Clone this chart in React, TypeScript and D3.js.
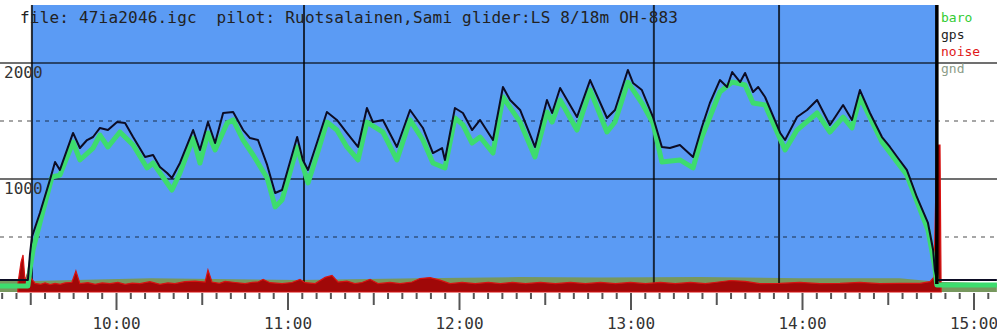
import React from 'react';
import * as d3 from 'd3';

const W = 997;
const H = 334;

const titleText = 'file: 47ia2046.igc  pilot: Ruotsalainen,Sami glider:LS 8/18m OH-883';
const solidGrid = [1000, 2000];
const dashedGrid = [500, 1500];
const yLabels = [1000, 2000];
const hourTicks = [600, 660, 720, 780, 840, 900];
const legendLabels = ['baro', 'gps', 'noise', 'gnd'];
const legendColors = ['#33cc33', '#222222', '#e01818', '#8c9c88'];
const markerTimes = [665.6, 788.0, 831.8];
const flightStart = 570.4;
const flightEnd = 887.0;

// minutes since midnight / metres
const gpsTime = [559.2, 569.0, 569.7, 570.4, 573.2, 576.7, 578.5, 580.2, 584.8, 587.2, 589.7, 591.8, 594.2, 597.0, 600.2, 603.0, 605.8, 610.0, 612.8, 615.2, 617.7, 619.4, 622.2, 626.8, 629.2, 632.0, 634.5, 637.3, 640.8, 644.3, 646.7, 649.5, 652.7, 655.5, 657.9, 663.2, 665.2, 667.0, 670.1, 673.6, 677.1, 680.6, 684.5, 687.6, 689.7, 693.2, 698.1, 702.7, 707.2, 710.7, 713.9, 714.9, 718.4, 721.2, 724.4, 727.2, 731.7, 735.2, 737.7, 741.2, 746.4, 750.6, 752.4, 755.2, 761.1, 765.7, 771.6, 774.4, 778.9, 780.7, 783.8, 787.7, 790.8, 793.6, 797.1, 801.7, 804.8, 807.6, 811.1, 813.6, 815.4, 818.2, 819.9, 822.7, 824.5, 826.9, 832.2, 833.9, 838.1, 841.6, 845.1, 849.6, 854.2, 857.3, 860.1, 863.6, 867.8, 870.6, 873.4, 876.5, 880.0, 883.9, 885.7, 886.3, 887.0, 908.0];
const gpsAlt = [129, 129, 345, 500, 707, 991, 1147, 1078, 1397, 1267, 1336, 1362, 1440, 1422, 1491, 1483, 1362, 1190, 1207, 1103, 1052, 1009, 1138, 1422, 1250, 1491, 1310, 1569, 1578, 1422, 1353, 1336, 1121, 879, 905, 1362, 1164, 1078, 1310, 1578, 1509, 1397, 1276, 1612, 1491, 1509, 1276, 1595, 1440, 1224, 1267, 1164, 1612, 1569, 1422, 1509, 1336, 1793, 1681, 1595, 1276, 1681, 1569, 1784, 1534, 1853, 1526, 1595, 1940, 1828, 1767, 1534, 1276, 1267, 1293, 1190, 1448, 1655, 1853, 1793, 1922, 1836, 1914, 1750, 1793, 1707, 1397, 1336, 1534, 1595, 1681, 1466, 1638, 1509, 1767, 1569, 1362, 1276, 1181, 1078, 845, 621, 388, 216, 129, 129];

const baroTime = [559.2, 569.0, 569.7, 570.8, 573.2, 577.4, 580.2, 584.8, 587.2, 591.8, 594.2, 597.0, 601.2, 605.8, 610.7, 612.8, 619.4, 622.2, 626.8, 629.2, 632.0, 634.5, 638.7, 640.8, 644.3, 647.8, 652.7, 655.5, 657.9, 663.2, 667.0, 670.1, 673.6, 677.1, 680.6, 684.5, 687.6, 693.2, 698.1, 702.7, 707.2, 710.7, 714.9, 718.4, 721.2, 724.4, 727.2, 731.7, 735.2, 741.2, 746.4, 750.6, 752.4, 755.2, 761.1, 765.7, 771.6, 774.4, 778.9, 783.8, 787.7, 790.8, 797.1, 801.7, 804.8, 811.1, 815.4, 819.9, 822.7, 826.9, 833.9, 838.1, 845.1, 849.6, 854.2, 857.3, 860.1, 867.8, 876.5, 883.9, 886.3, 887.0, 908.0];
const baroAlt = [78, 78, 216, 388, 621, 1017, 1034, 1319, 1164, 1267, 1379, 1276, 1405, 1293, 1095, 1138, 905, 1052, 1353, 1138, 1397, 1250, 1483, 1509, 1336, 1207, 1009, 759, 819, 1276, 966, 1207, 1491, 1422, 1276, 1164, 1491, 1405, 1164, 1509, 1336, 1138, 1095, 1526, 1466, 1310, 1362, 1224, 1707, 1491, 1190, 1578, 1491, 1681, 1422, 1767, 1405, 1491, 1836, 1655, 1483, 1147, 1164, 1095, 1362, 1750, 1836, 1810, 1655, 1638, 1250, 1422, 1569, 1405, 1534, 1440, 1707, 1319, 1034, 560, 241, 86, 86];

const noiseTime = [565.5, 566.6, 567.3, 568.0, 569.0, 570.1, 571.5, 573.5, 575.0, 576.8, 578.5, 580.3, 582.0, 584.4, 585.8, 587.2, 590.0, 592.5, 595.0, 597.7, 600.5, 603.0, 605.5, 608.2, 611.7, 615.2, 618.0, 620.4, 623.9, 627.5, 631.0, 632.0, 633.4, 636.0, 638.0, 641.5, 645.0, 647.5, 649.5, 651.3, 653.7, 657.9, 661.4, 664.2, 666.0, 669.5, 673.0, 675.4, 677.5, 680.6, 683.4, 685.9, 688.7, 691.5, 695.7, 699.2, 703.4, 706.2, 709.7, 713.2, 716.7, 720.9, 725.5, 730.1, 734.3, 738.5, 743.1, 748.3, 753.6, 758.8, 764.1, 769.3, 774.6, 779.8, 785.1, 790.3, 795.5, 800.8, 806.0, 810.0, 814.8, 819.9, 825.1, 832.1, 839.1, 846.1, 853.1, 860.1, 867.1, 874.1, 881.1, 884.6, 886.0, 887.0, 888.1, 888.5];
const noiseVal = [95, 284, 345, 120, 198, 147, 100, 92, 105, 90, 100, 92, 104, 110, 207, 98, 106, 92, 104, 98, 108, 92, 102, 98, 115, 92, 104, 98, 115, 120, 112, 216, 112, 100, 118, 108, 98, 110, 112, 135, 106, 98, 108, 135, 106, 98, 152, 168, 112, 120, 98, 108, 135, 98, 108, 98, 112, 142, 150, 128, 98, 108, 98, 108, 98, 108, 98, 108, 98, 108, 98, 108, 98, 108, 98, 108, 98, 108, 98, 110, 125, 118, 98, 100, 108, 98, 100, 108, 98, 100, 100, 115, 155, 1293, 1293, 26];

const gndTime = [559.2, 570.4, 612.0, 664.0, 706.0, 741.0, 769.0, 804.0, 839.0, 874.0, 887.0, 908.0];
const gndAlt = [120, 120, 145, 130, 145, 155, 150, 155, 145, 145, 115, 100];

type P = [number, number];
const zip = (a: number[], b: number[]): P[] => a.map((t, i) => [t, b[i]] as P);

export default function App() {
  const x = d3.scaleLinear().domain([600, 900]).range([116.5, 974]);
  const y = d3.scaleLinear().domain([0, 2000]).range([295, 63]);
  const plotTop = 5;
  const plotBottom = 292;

  const line = d3.line<P>().x((d) => x(d[0])).y((d) => y(d[1]));
  const area = d3
    .area<P>()
    .x((d) => x(d[0]))
    .y0(plotBottom)
    .y1((d) => Math.min(plotBottom, y(d[1])));

  const ticks = d3.range(560, 906, 5);
  const fmt = (m: number) => `${Math.floor(m / 60)}:00`;

  return (
    <svg
      width={W}
      height={H}
      style={{ position: 'absolute', left: 0, top: 0, display: 'block' }}
      fontFamily="'DejaVu Sans Mono', monospace"
    >
      <rect width={W} height={H} fill="#ffffff" />
      <rect
        x={x(flightStart)}
        y={plotTop}
        width={x(flightEnd) - x(flightStart)}
        height={plotBottom - plotTop}
        fill="#5b9bf4"
      />
      <path d={area(zip(gndTime, gndAlt)) || ''} fill="#77985e" />

      {dashedGrid.map((v) => (
        <line key={'d' + v} x1={0} x2={W} y1={y(v)} y2={y(v)} stroke="#000" strokeOpacity={0.35} strokeWidth={2} strokeDasharray="4,5" />
      ))}
      {solidGrid.map((v) => (
        <line key={'s' + v} x1={0} x2={W} y1={y(v)} y2={y(v)} stroke="#000" strokeOpacity={0.75} strokeWidth={1.5} />
      ))}
      <line x1={x(flightStart)} x2={x(flightStart)} y1={plotTop} y2={plotBottom} stroke="#000" strokeOpacity={0.8} strokeWidth={2} />
      {markerTimes.map((t) => (
        <line key={'m' + t} x1={x(t)} x2={x(t)} y1={plotTop} y2={plotBottom - 8} stroke="#000" strokeOpacity={0.75} strokeWidth={2} />
      ))}

      <path d={area(zip(noiseTime, noiseVal)) || ''} fill="#a00808" stroke="#d81212" strokeWidth={1.2} />

      <path d={line(zip(baroTime, baroAlt)) || ''} fill="none" stroke="#3ddc6e" strokeWidth={5} strokeLinejoin="round" />
      <path d={line(zip(gpsTime, gpsAlt)) || ''} fill="none" stroke="#0c0c24" strokeWidth={2} strokeLinejoin="round" />

      <line x1={x(flightEnd)} x2={x(flightEnd)} y1={plotTop} y2={plotBottom - 8} stroke="#000" strokeWidth={3.5} />

      {ticks.map((t) => {
        const len = t % 60 === 0 ? 17 : t % 30 === 0 ? 12 : 6;
        return (
          <line key={'t' + t} x1={x(t)} x2={x(t)} y1={plotBottom + 1} y2={plotBottom + 1 + len} stroke="#555" strokeWidth={2} />
        );
      })}
      {hourTicks.map((t) => (
        <text key={'h' + t} x={x(t)} y={329} fontSize={16} fill="#333" textAnchor="middle">
          {fmt(t)}
        </text>
      ))}
      {yLabels.map((v) => (
        <text key={'y' + v} x={4} y={y(v) + 15} fontSize={16} fill="#333">
          {v}
        </text>
      ))}

      <text x={20} y={23} fontSize={16} fill="#222" textLength={658} lengthAdjust="spacing" style={{ whiteSpace: 'pre' }}>
        {titleText}
      </text>

      {legendLabels.map((l, i) => (
        <text key={l} x={941} y={22 + i * 17} fontSize={13} fill={legendColors[i]}>
          {l}
        </text>
      ))}
    </svg>
  );
}
